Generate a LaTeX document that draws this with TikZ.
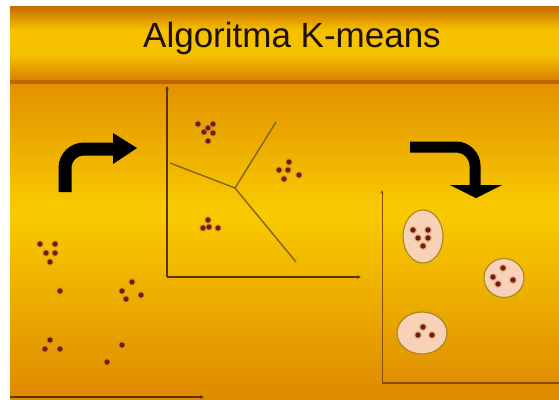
\documentclass[tikz,border=0pt]{standalone}
\usepackage{fontspec}
\setmainfont{Liberation Sans}
\usetikzlibrary{arrows.meta}
\definecolor{tdark}{HTML}{C86800}
\definecolor{tyel}{HTML}{F6C200}
\definecolor{tlow}{HTML}{D88200}
\definecolor{bandline}{HTML}{C06400}
\definecolor{btop}{HTML}{E29200}
\definecolor{bmid}{HTML}{F8C800}
\definecolor{bbot}{HTML}{DE8A00}
\definecolor{axisc}{HTML}{5A3400}
\definecolor{axisr}{HTML}{8A4A10}
\definecolor{linec}{HTML}{7E6420}
\definecolor{dotc}{HTML}{6A2010}
\definecolor{dothalo}{HTML}{D88040}
\definecolor{blobfill}{HTML}{F8D2B8}
\definecolor{blobdraw}{HTML}{A88420}
\definecolor{titlec}{HTML}{201008}
\tikzset{
  axisline/.style={draw=axisc, line width=1.2pt, -{Stealth[length=4pt,width=3.5pt]}},
  axisright/.style={draw=axisr, line width=1pt, -{Stealth[length=4pt,width=3pt]}},
  border/.style={draw=linec, line width=1.4pt},
  blob/.style={fill=blobfill, draw=blobdraw, line width=1.1pt},
  bigarrow/.style={draw=black, line width=13pt},
  headfill/.style={fill=black},
}
\newcommand{\kdot}[1]{\fill[dothalo, opacity=0.45] #1 circle (4);\fill[dotc] #1 circle (2.7);}
\begin{document}
\begin{tikzpicture}[x=1pt,y=-1pt]
\useasboundingbox (0,0) rectangle (559,399);
\fill[white] (0,0) rectangle (559,399);
% title band
\shade[top color=tdark, bottom color=tyel] (10,6) rectangle (559,30);
\fill[tyel] (10,29.5) rectangle (559,54);
\shade[top color=tyel, bottom color=tlow] (10,53.5) rectangle (559,80);
\fill[bandline] (10,79.5) rectangle (559,84);
% body
\shade[top color=btop, bottom color=bmid] (10,84) rectangle (559,205);
\fill[bmid] (10,204.5) rectangle (559,220);
\shade[top color=bmid, bottom color=bbot] (10,219.5) rectangle (559,399.5);
% title
\node[anchor=base, text=titlec, font=\fontsize{35}{40}\selectfont, inner sep=0] (title) at (292,47) {Algoritma K-means};
% left scattered data
\foreach \p in {(40,244),(55,244),(46,253),(55,253),(50,262),(60,291),(132,282),(122,291),(126,299),(141,295),(50,340),(45,349),(60,349),(122,345),(107,362)}{\kdot{\p}}
\draw[axisline, line width=2pt] (10,397) -- (204,397);
% left arrow
\draw[bigarrow] (65,192) -- (65,168) arc[start angle=180, end angle=270, radius=19] -- (114,149);
\fill[headfill] (113,133) -- (137,148) -- (113,164) -- cycle;
% middle plot
\draw[axisline] (167,277) -- (167,86);
\draw[axisline] (167,277) -- (361,277);
\coordinate (c) at (235,188);
\draw[border] (170,163) -- (c) -- (276,122);
\draw[border] (c) -- (296,262);
\foreach \p in {(198,124),(213,124),(204,132),(208,128),(213,133),(208,141),(289,162),(279,170),(288,170),(299,175),(284,179),(208,220),(203,228),(209,227),(218,228)}{\kdot{\p}}
% right arrow
\draw[bigarrow, line width=11pt] (410,147) -- (456,147) arc[start angle=-90, end angle=0, radius=19] -- (475,186);
\fill[headfill] (450,185) -- (502,185) -- (476,198) -- cycle;
% right plot
\draw[axisright] (382,383) -- (382,190);
\draw[draw=axisr, line width=1.6pt] (382,383) -- (559,383);
\filldraw[blob] (423,236.5) ellipse[x radius=20, y radius=26.5];
\filldraw[blob] (504,278) ellipse[x radius=20, y radius=19.5];
\filldraw[blob] (422,333) ellipse[x radius=25, y radius=21];
\foreach \p in {(413,230),(428,230),(418,238),(428,238),(423,246),(503,268),(493,277),(513,280),(498,284),(423,327),(418,335),(432,335)}{\kdot{\p}}
\end{tikzpicture}
\end{document}
